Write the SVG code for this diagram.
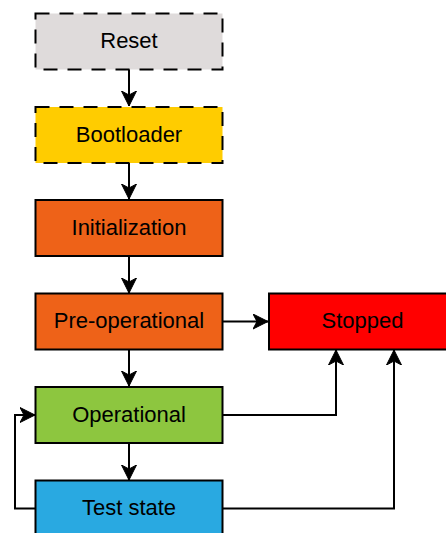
<svg xmlns="http://www.w3.org/2000/svg" width="446" height="533" viewBox="0 0 446 533">
  <style>
    .box { stroke: #000; stroke-width: 2; }
    .dashed { stroke-dasharray: 14 10; }
    .label { font-family: "Liberation Sans", Arial, sans-serif; font-size: 22px; fill: #000; text-anchor: middle; dominant-baseline: central; }
    .edge { fill: none; stroke: #000; stroke-width: 2; marker-end: url(#arrow); }
  </style>
  <defs>
    <marker id="arrow" markerUnits="userSpaceOnUse" markerWidth="16" markerHeight="16" viewBox="-15 -8 16 16" refX="0" refY="0" orient="auto">
      <path d="M0,0 L-15,-7.5 L-11,0 L-15,7.5 Z" fill="#000" stroke="#000" stroke-width="1"/>
    </marker>
  </defs>

  <g id="connectors">
    <path class="edge" d="M129,69 L129,106"/>
    <path class="edge" d="M129,163 L129,199"/>
    <path class="edge" d="M129,256 L129,293"/>
    <path class="edge" d="M129,349 L129,386"/>
    <path class="edge" d="M129,443 L129,480"/>
    <path class="edge" d="M222,321.5 L268,321.5"/>
    <path class="edge" d="M222,415 L336,415 L336,350"/>
    <path class="edge" d="M222,508.5 L394,508.5 L394,350"/>
    <path class="edge" d="M35,508.5 L15,508.5 L15,415 L35,415"/>
  </g>

  <g id="reset">
    <rect class="box dashed" x="35.5" y="13.5" width="187" height="56" fill="#dfdbdb"/>
    <text class="label" x="129" y="40.5">Reset</text>
  </g>
  <g id="bootloader">
    <rect class="box dashed" x="35.5" y="107" width="187" height="56" fill="#ffcc00"/>
    <text class="label" x="129" y="134">Bootloader</text>
  </g>
  <g id="initialization">
    <rect class="box" x="35.5" y="200" width="187" height="56" fill="#ee6218"/>
    <text class="label" x="129" y="227">Initialization</text>
  </g>
  <g id="pre-operational">
    <rect class="box" x="35.5" y="293.5" width="187" height="56" fill="#ee6218"/>
    <text class="label" x="129" y="320.5">Pre-operational</text>
  </g>
  <g id="operational">
    <rect class="box" x="35.5" y="387" width="187" height="56" fill="#8dc63f"/>
    <text class="label" x="129" y="414">Operational</text>
  </g>
  <g id="test-state">
    <rect class="box" x="35.5" y="480.5" width="187" height="56" fill="#29a9e1"/>
    <text class="label" x="129" y="507.5">Test state</text>
  </g>
  <g id="stopped">
    <rect class="box" x="269" y="293.5" width="187" height="56" fill="#ff0000"/>
    <text class="label" x="362.5" y="320.5">Stopped</text>
  </g>
</svg>
